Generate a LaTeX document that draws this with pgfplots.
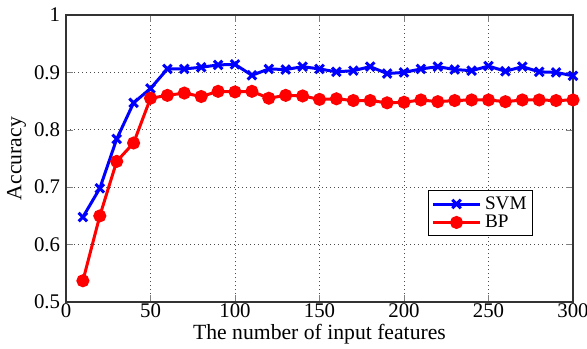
\documentclass[border=0pt]{standalone}
\usepackage{pgfplots}
\pgfplotsset{compat=1.18}
\usepackage{fontspec}
\setmainfont{Liberation Serif}
\begin{document}
\begin{tikzpicture}[font=\fontsize{13}{15.6}\selectfont]
\begin{axis}[
  scale only axis,
  width=304.2pt, height=172.2pt,
  xmin=0, xmax=300, ymin=0.5, ymax=1,
  xtick={0,50,...,300},
  ytick={0.5,0.6,...,1.0},
  /pgf/number format/assume math mode=true,
  tick label style={font=\fontsize{12.5}{14}\selectfont},
  yticklabel style={/pgf/number format/fixed,/pgf/number format/precision=1},
  xticklabel style={inner sep=1pt, yshift=0.5pt},
  grid=major,
  major grid style={dotted, black!70, line width=0.5pt},
  tick align=inside,
  xtick pos=both, ytick pos=both,
  axis line style={black!80, line width=0.7pt},
  xlabel={The number of input features},
  ylabel={Accuracy},
  xlabel style={yshift=-2.5pt, inner sep=0.5pt},
  ylabel style={yshift=-2pt},
  legend style={at={(0.921,0.39)}, anchor=north east, draw=black, line width=0.6pt, font=\fontsize{11.5}{13}\selectfont, row sep=-2pt, inner sep=1.5pt},
  legend cell align=left,
  legend image code/.code={\draw[mark repeat=2,mark phase=2] plot coordinates {(0cm,0cm) (0.5cm,0cm) (1cm,0cm)};},
]
\addplot[color=blue, line width=1.8pt, mark=x, mark size=3.6pt, mark options={line width=1.8pt}] coordinates {
(10,0.648) (20,0.698) (30,0.784) (40,0.847) (50,0.872) (60,0.906) (70,0.906) (80,0.909) (90,0.913) (100,0.914)
(110,0.895) (120,0.906) (130,0.905) (140,0.910) (150,0.906) (160,0.901) (170,0.903) (180,0.910) (190,0.898) (200,0.900)
(210,0.906) (220,0.910) (230,0.905) (240,0.903) (250,0.911) (260,0.902) (270,0.910) (280,0.901) (290,0.900) (300,0.894)
};
\addlegendentry{SVM}
\addplot[color=red, line width=1.8pt, mark=*, mark size=3pt] coordinates {
(10,0.537) (20,0.650) (30,0.745) (40,0.777) (50,0.855) (60,0.860) (70,0.864) (80,0.858) (90,0.867) (100,0.866)
(110,0.867) (120,0.855) (130,0.860) (140,0.859) (150,0.853) (160,0.854) (170,0.851) (180,0.851) (190,0.847) (200,0.848)
(210,0.852) (220,0.849) (230,0.851) (240,0.852) (250,0.852) (260,0.849) (270,0.852) (280,0.852) (290,0.851) (300,0.852)
};
\addlegendentry{BP}
\end{axis}
\pgfresetboundingbox
\useasboundingbox (-39.6pt,-27.6pt) rectangle (312.6pt,181.2pt);
\end{tikzpicture}
\end{document}
